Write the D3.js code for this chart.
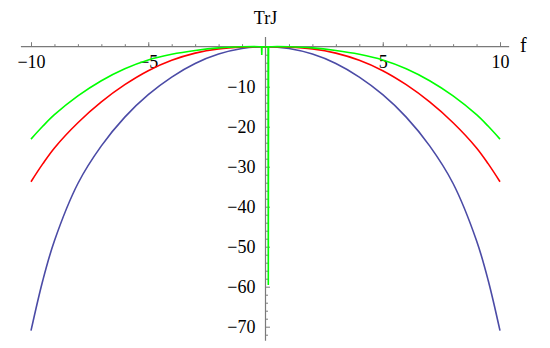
<!DOCTYPE html>
<html>
<head>
<meta charset="utf-8">
<script src="https://cdn.jsdelivr.net/npm/d3@7"></script>
<style>
  html, body { margin: 0; padding: 0; background: #fff; }
  svg text { font-family: "Liberation Serif", "Times New Roman", serif; fill: #000; }
</style>
</head>
<body>
<svg id="chart" width="550" height="348"></svg>
<script>
// ---- data ----
const fValues   = [-10, -9.5, -9, -8, -7, -6, -5, -4, -3, -2, -1, 0, 1, 2, 3, 4, 5, 6, 7, 8, 9, 9.5, 10];
const blueTrJ   = [-71, -58.5, -48.5, -34.2, -24.8, -17.6, -12.0, -7.6, -4.2, -1.85, -0.45, 0, -0.45, -1.85, -4.2, -7.6, -12.0, -17.6, -24.8, -34.2, -48.5, -58.5, -71];
const redTrJ    = [-33.75, -29.3, -25.3, -19.0, -13.8, -9.5, -6.0, -3.4, -1.6, -0.55, -0.1, 0, -0.1, -0.55, -1.6, -3.4, -6.0, -9.5, -13.8, -19.0, -25.3, -29.3, -33.75];
const greenTrJ  = [-23.1, -19.9, -17.0, -12.3, -8.5, -5.5, -3.3, -1.9, -0.95, -0.3, -0.02, 0, -0.02, -0.3, -0.95, -1.9, -3.3, -5.5, -8.5, -12.3, -17.0, -19.9, -23.1];
// green curve's numerical spikes near f = 0
const greenSpikeF   = [-0.17, -0.16, -0.15, 0.11, 0.12, 0.13];
const greenSpikeTrJ = [0, -2.1, 0, 0, -59.6, 0];

const xMajorTicks = [-10, -5, 5, 10];
const yMajorTicks = [-10, -20, -30, -40, -50, -60, -70];
const xAxisLabel = "f";
const yAxisLabel = "TrJ";

// ---- layout ----
const svg = d3.select("#chart");
const x = d3.scaleLinear().domain([-10, 10]).range([31, 500]);
const y = d3.scaleLinear().domain([0, -70]).range([46.7, 326.7]);
const axisColor = "#7a7a7a";
const fontSize = 18;

const fmt = v => (v < 0 ? "\u2212" : "") + Math.abs(v);

// x axis line
const gx = svg.append("g").attr("transform", `translate(0,${y(0)})`);
gx.append("line").attr("x1", x(-10.43)).attr("x2", x(10.39))
  .attr("stroke", axisColor).attr("stroke-width", 1.2);
gx.call(g => g.append("g").call(
    d3.axisBottom(x).tickValues(d3.range(-10, 11, 1).filter(v => v !== 0)).tickSizeInner(-2.5).tickSizeOuter(0).tickFormat(""))
  .call(a => { a.select(".domain").remove(); a.selectAll("line").attr("stroke", axisColor); }));
gx.call(g => g.append("g").call(
    d3.axisBottom(x).tickValues(xMajorTicks).tickSizeInner(-4.5).tickSizeOuter(0).tickPadding(9).tickFormat(fmt))
  .call(a => {
    a.select(".domain").remove();
    a.selectAll("line").attr("stroke", axisColor);
    a.selectAll("text").attr("font-size", fontSize).attr("font-family", "Liberation Serif").attr("fill", "#000");
  }));

// y axis line
const gy = svg.append("g").attr("transform", `translate(${x(0)},0)`);
gy.append("line").attr("y1", y(2.4)).attr("y2", y(-73.5))
  .attr("stroke", axisColor).attr("stroke-width", 1.2);
gy.call(g => g.append("g").call(
    d3.axisLeft(y).tickValues(d3.range(-2, -74, -2).filter(v => v % 10 !== 0)).tickSizeInner(-2.5).tickSizeOuter(0).tickFormat(""))
  .call(a => { a.select(".domain").remove(); a.selectAll("line").attr("stroke", axisColor); }));
gy.call(g => g.append("g").call(
    d3.axisLeft(y).tickValues(yMajorTicks).tickSizeInner(-4.5).tickSizeOuter(0).tickPadding(10).tickFormat(fmt))
  .call(a => {
    a.select(".domain").remove();
    a.selectAll("line").attr("stroke", axisColor);
    a.selectAll("text").attr("font-size", fontSize).attr("font-family", "Liberation Serif").attr("fill", "#000");
  }));

// axis labels
svg.append("text").attr("x", x(0)).attr("y", 24).attr("text-anchor", "middle")
  .attr("font-size", fontSize).text(yAxisLabel);
svg.append("text").attr("x", 520).attr("y", 52).attr("text-anchor", "start")
  .attr("font-size", fontSize + 2).text(xAxisLabel);

// ---- curves ----
const smooth = d3.line().x(d => x(d[0])).y(d => y(d[1])).curve(d3.curveCatmullRom.alpha(0.5));
const straight = d3.line().x(d => x(d[0])).y(d => y(d[1]));

const bluePts = fValues.map((f, i) => [f, blueTrJ[i]]);
const redPts = fValues.map((f, i) => [f, redTrJ[i]]);
const greenPts = fValues.map((f, i) => [f, greenTrJ[i]]);
const spikePts = greenSpikeF.map((f, i) => [f, greenSpikeTrJ[i]]);

svg.append("path").datum(bluePts).attr("d", smooth)
  .attr("fill", "none").attr("stroke", "#4b4ba6").attr("stroke-width", 1.6);
svg.append("path").datum(redPts).attr("d", smooth)
  .attr("fill", "none").attr("stroke", "#ff0000").attr("stroke-width", 1.6);
svg.append("path").datum(greenPts).attr("d", smooth)
  .attr("fill", "none").attr("stroke", "#00ff00").attr("stroke-width", 1.6);
svg.append("path").datum(spikePts.slice(0, 3)).attr("d", straight)
  .attr("fill", "none").attr("stroke", "#00ff00").attr("stroke-width", 1.6);
svg.append("path").datum(spikePts.slice(3)).attr("d", straight)
  .attr("fill", "none").attr("stroke", "#00ff00").attr("stroke-width", 1.6);
</script>
</body>
</html>
